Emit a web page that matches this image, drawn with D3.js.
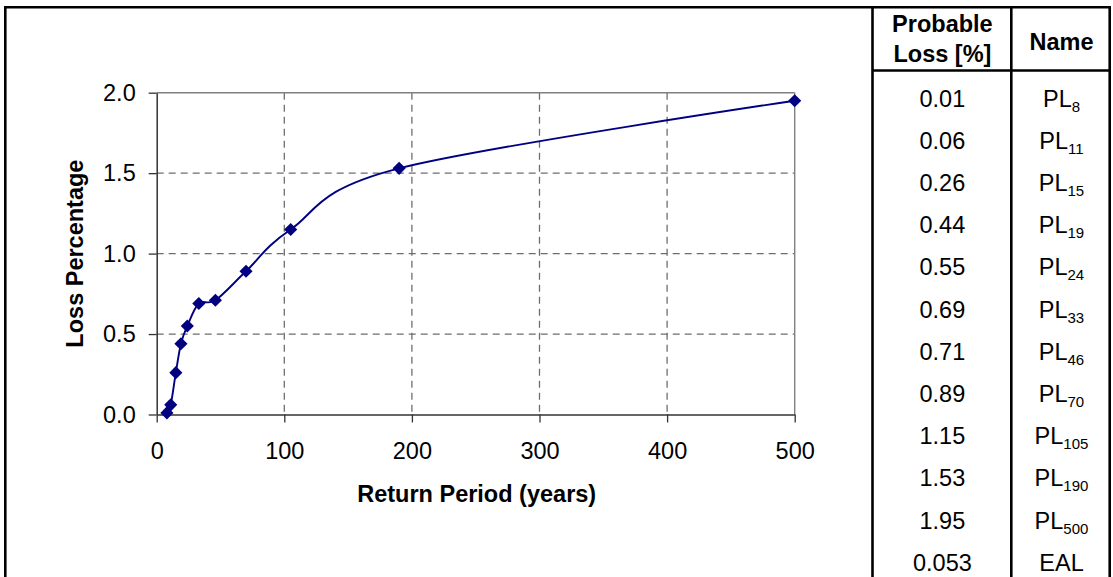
<!DOCTYPE html>
<html><head><meta charset="utf-8">
<script src="https://cdn.jsdelivr.net/npm/d3@7"></script>
<style>
body{margin:0;background:#fff}
text{font-family:"Liberation Sans",Arial,Helvetica,sans-serif;fill:#000}
</style>
</head><body>
<svg id="c" width="1113" height="577"></svg>
<script>
// ---- data ----
const returnPeriods = [8, 11, 15, 19, 24, 33, 46, 70, 105, 190, 500];
const lossValues = [0.01, 0.06, 0.26, 0.44, 0.55, 0.69, 0.71, 0.89, 1.15, 1.53, 1.95];
const xTicks = [0, 100, 200, 300, 400, 500];
const yTicks = [0, 0.5, 1.0, 1.5, 2.0];
const tableLoss = ["0.01", "0.06", "0.26", "0.44", "0.55", "0.69", "0.71", "0.89", "1.15", "1.53", "1.95", "0.053"];
const tableNameBase = ["PL", "PL", "PL", "PL", "PL", "PL", "PL", "PL", "PL", "PL", "PL", "EAL"];
const tableNameSub = ["8", "11", "15", "19", "24", "33", "46", "70", "105", "190", "500", ""];
const xTitle = "Return Period (years)";
const yTitle = "Loss Percentage";
const headerLoss = ["Probable", "Loss [%]"];
const headerName = "Name";

// ---- layout ----
const FS = 23.5;
const plot = {left: 156.7, right: 794.7, top: 92.7, bottom: 414.5};
const svg = d3.select("#c");
svg.append("rect").attr("width", 1113).attr("height", 577).attr("fill", "#fff");

const x = d3.scaleLinear().domain([0, 500]).range([plot.left, plot.right]);
const y = d3.scaleLinear().domain([0, 2]).range([plot.bottom, plot.top]);

// grid
const g = svg.append("g");
g.selectAll("line.vg").data(xTicks.filter(d => d > 0 && d < 500)).join("line")
  .attr("x1", d => x(d)).attr("x2", d => x(d)).attr("y1", plot.top).attr("y2", plot.bottom)
  .attr("stroke", "#6e6e6e").attr("stroke-width", 1.3).attr("stroke-dasharray", "7,5");
g.selectAll("line.hg").data(yTicks.filter(d => d > 0 && d < 2)).join("line")
  .attr("x1", plot.left).attr("x2", plot.right).attr("y1", d => y(d)).attr("y2", d => y(d))
  .attr("stroke", "#6e6e6e").attr("stroke-width", 1.3).attr("stroke-dasharray", "7,5");
// top & right plot border
g.append("line").attr("x1", plot.left).attr("x2", plot.right).attr("y1", y(2)).attr("y2", y(2))
  .attr("stroke", "#808080").attr("stroke-width", 1.4);
g.append("line").attr("x1", x(500)).attr("x2", x(500)).attr("y1", plot.top).attr("y2", plot.bottom)
  .attr("stroke", "#808080").attr("stroke-width", 1.4);

// axes
const yAxis = d3.axisLeft(y).tickValues(yTicks).tickSize(8).tickSizeOuter(0).tickPadding(13)
  .tickFormat(d3.format(".1f"));
const xAxis = d3.axisBottom(x).tickValues(xTicks).tickSize(8).tickSizeOuter(0).tickPadding(20.3)
  .tickFormat(d3.format("d"));
const ya = svg.append("g").attr("transform", `translate(${plot.left},0)`).call(yAxis);
const xa = svg.append("g").attr("transform", `translate(0,${plot.bottom})`).call(xAxis);
[ya, xa].forEach(a => {
  a.select(".domain").attr("stroke", "#333").attr("stroke-width", 1.5);
  a.selectAll(".tick line").attr("stroke", "#333").attr("stroke-width", 1.3);
  a.selectAll(".tick text").attr("font-size", FS).attr("fill", "#000")
    .style("font-family", '"Liberation Sans",Arial,sans-serif');
});

// titles
svg.append("text").attr("x", (plot.left + plot.right) / 2 + 1).attr("y", 501.5)
  .attr("text-anchor", "middle").attr("font-size", FS).attr("font-weight", "bold").text(xTitle);
svg.append("text").attr("transform", `translate(83,${(plot.top + plot.bottom) / 2}) rotate(-90)`)
  .attr("text-anchor", "middle").attr("font-size", FS).attr("font-weight", "bold").text(yTitle);

// series
const pts = returnPeriods.map((r, i) => [r, lossValues[i]]);
const line = d3.line().x(d => x(d[0])).y(d => y(d[1])).curve(d3.curveCardinal.tension(0));
svg.append("path").datum(pts).attr("d", line).attr("fill", "none")
  .attr("stroke", "#000080").attr("stroke-width", 1.9);
svg.selectAll("path.m").data(pts).join("path").attr("class", "m")
  .attr("transform", d => `translate(${x(d[0])},${y(d[1])}) rotate(45)`)
  .attr("d", d3.symbol().type(d3.symbolSquare).size(86)).attr("fill", "#000080");

// chart box & table
const boxL = 5.3, boxT = 7.3, tL = 872.5, tM = 1011.3, tR = 1109.7, hdrB = 70.5;
const bw = 2.6;
const frame = svg.append("g").attr("stroke", "#000").attr("stroke-width", bw).attr("fill", "none");
frame.append("line").attr("x1", boxL).attr("x2", boxL).attr("y1", boxT - bw / 2).attr("y2", 600);
frame.append("line").attr("x1", boxL - bw / 2).attr("x2", tR + bw / 2).attr("y1", boxT).attr("y2", boxT);
frame.append("line").attr("x1", tL).attr("x2", tL).attr("y1", boxT).attr("y2", 600);
frame.append("line").attr("x1", tM).attr("x2", tM).attr("y1", boxT).attr("y2", 600);
frame.append("line").attr("x1", tR).attr("x2", tR).attr("y1", boxT).attr("y2", 600);
frame.append("line").attr("x1", tL).attr("x2", tR).attr("y1", hdrB).attr("y2", hdrB);

const c1 = (tL + tM) / 2 + 0.5, c2 = (tM + tR) / 2 + 1;
svg.selectAll("text.h1").data(headerLoss).join("text")
  .attr("x", c1).attr("y", (d, i) => 32 + i * 29.5).attr("text-anchor", "middle")
  .attr("font-size", FS).attr("font-weight", "bold").text(d => d);
svg.append("text").attr("x", c2).attr("y", 50).attr("text-anchor", "middle")
  .attr("font-size", FS).attr("font-weight", "bold").text(headerName);

const rowY = i => 106.5 + i * 42.2;
svg.selectAll("text.v").data(tableLoss).join("text")
  .attr("x", c1).attr("y", (d, i) => rowY(i)).attr("text-anchor", "middle")
  .attr("font-size", FS).text(d => d);
const nm = svg.selectAll("text.n").data(tableNameBase).join("text")
  .attr("x", c2).attr("y", (d, i) => rowY(i)).attr("text-anchor", "middle").attr("font-size", FS);
nm.append("tspan").text(d => d);
nm.append("tspan").attr("font-size", 15).attr("dy", 5).text((d, i) => tableNameSub[i]);
</script>
</body></html>
